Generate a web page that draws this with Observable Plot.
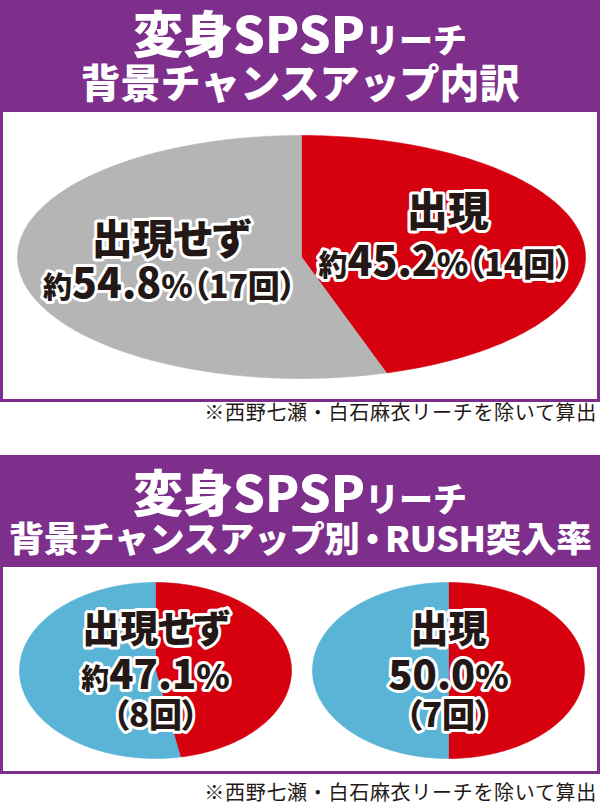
<!DOCTYPE html>
<html><head><meta charset="utf-8">
<script src="https://cdn.jsdelivr.net/npm/d3@7"></script>
<script src="https://cdn.jsdelivr.net/npm/@observablehq/plot@0.6"></script>
<style>
html,body{margin:0;padding:0;background:#fff;}
body{width:600px;height:805px;position:relative;overflow:hidden;font-family:"Noto Sans CJK JP","Noto Sans",sans-serif;}
.hdr{position:absolute;left:0;width:600px;height:112px;background:#7d2f8b;color:#fff;font-weight:900;text-align:center;}
.hdr div{position:absolute;left:0;width:600px;white-space:nowrap;}
.big{font-size:50px;}
.mid{font-size:34px;}
.dot{font-feature-settings:"palt";margin:0 4px;}
.box{position:absolute;left:0;width:600px;box-sizing:border-box;border:3px solid #7d2f8b;border-top:0;background:#fff;}
.box svg{display:block;}
.box svg text{font-feature-settings:"palt";}
.cap{position:absolute;right:3px;font-size:20px;letter-spacing:0.7px;line-height:24px;color:#231815;white-space:nowrap;}
</style></head>
<body>
<div class="hdr" style="top:0">
  <div style="top:6px;line-height:50px"><span class="big">変身SPSP</span><span class="mid">リーチ</span></div>
  <div style="top:59px;line-height:44px;font-size:40px">背景チャンスアップ内訳</div>
</div>
<div class="box" id="box1" style="top:112px;height:290px"></div>
<div class="cap" style="top:400px">※西野七瀬・白石麻衣リーチを除いて算出</div>

<div class="hdr" style="top:455px">
  <div style="top:10px;line-height:50px"><span class="big">変身SPSP</span><span class="mid">リーチ</span></div>
  <div style="top:62px;line-height:40px;font-size:35.5px;letter-spacing:-0.3px">背景チャンスアップ別<span class="dot">・</span>RUSH突入率</div>
</div>
<div class="box" id="box2" style="top:567px;height:207px"></div>
<div class="cap" style="top:780px">※西野七瀬・白石麻衣リーチを除いて算出</div>

<script>
// ---- data ----
const categories = ["出現", "出現せず"];   // 背景チャンスアップ (clockwise from 12 o'clock)
const occurrences = [14, 17];            // 回数
const rushHits = [7, 8];                 // RUSH突入回数
const rushCategoryOrder = ["出現せず", "出現"]; // left → right in the lower panel

// ---- styles ----
const RED = "#d7000f", GREY = "#b5b5b6", BLUE = "#5ab4d6", INK = "#231815";
const FONT = '"Noto Sans CJK JP", sans-serif';

function pctText(a, b) {
  const p = 100 * a / b, s = p.toFixed(1);
  return (Math.abs(p - +s) > 1e-9 ? "約" : "") + s + "%";
}
function wedge(key, start, end, extra = {}) {
  const n = Math.max(4, Math.ceil((end - start) * 360));
  const pts = [{key, x: 0, y: 0, ...extra}];
  for (let i = 0; i <= n; ++i) {
    const t = 2 * Math.PI * (start + (end - start) * i / n);
    pts.push({key, x: Math.sin(t), y: Math.cos(t), ...extra});
  }
  pts.push({key, x: 0, y: 0, ...extra});
  return pts;
}
// rich text: 約 / number / % / （n回）
function richify(svg, cls, sizes) {
  svg.querySelectorAll(`g.${cls} text`).forEach(t => {
    const s = t.textContent;
    const m = s.match(/^(約)?([0-9.]+)?(%)?(.*)$/);
    t.textContent = "";
    const parts = [[m[1], sizes.yaku], [m[2], sizes.num], [m[3], sizes.pct], [m[4], sizes.paren]];
    for (const [txt, fs] of parts) {
      if (!txt) continue;
      const ts = document.createElementNS("http://www.w3.org/2000/svg", "tspan");
      ts.setAttribute("font-size", fs);
      ts.textContent = txt;
      t.appendChild(ts);
    }
  });
}

// ---- chart 1 : 背景チャンスアップ内訳 ----
const total = d3.sum(occurrences);
let acc = 0;
const pie1 = categories.map((c, i) => {
  const s = acc / total; acc += occurrences[i];
  return {cat: c, start: s, end: acc / total, count: occurrences[i]};
});
const pie1Pts = pie1.flatMap(d => wedge(d.cat, d.start, d.end));
const pos1 = {"出現": {name: [0.515, 0.36], stat: [0.505, -0.05]},
              "出現せず": {name: [-0.46, 0.135], stat: [-0.465, -0.23]}};
const lab1 = pie1.map(d => ({
  name: d.cat,
  stat: pctText(d.count, total) + "（" + d.count + "回）",
  nx: pos1[d.cat].name[0], ny: pos1[d.cat].name[1],
  sx: pos1[d.cat].stat[0], sy: pos1[d.cat].stat[1]
}));

const txtStyle = {fill: INK, stroke: "white", strokeWidth: 6, strokeLinejoin: "round", paintOrder: "stroke",
                  fontWeight: 900, fontFamily: FONT, textAnchor: "middle"};

const chart1 = Plot.plot({
  width: 594, height: 287,
  marginLeft: 14, marginRight: 12, marginTop: 23, marginBottom: 21,
  x: {domain: [-1, 1], axis: null},
  y: {domain: [-1, 1], axis: null},
  color: {domain: categories, range: [RED, GREY]},
  marks: [
    Plot.line(pie1Pts, {x: "x", y: "y", z: "key", fill: "key", stroke: "key", strokeWidth: 0.6}),
    Plot.text(lab1, {x: "nx", y: "ny", text: "name", fontSize: 41, className: "name1", ...txtStyle}),
    Plot.text(lab1, {x: "sx", y: "sy", text: "stat", fontSize: 40, className: "stat1", ...txtStyle})
  ]
});
richify(chart1, "stat1", {yaku: 29, num: 41, pct: 32, paren: 32});
document.getElementById("box1").appendChild(chart1);

// ---- chart 2 : 背景チャンスアップ別・RUSH突入率 ----
const pie2Pts = rushCategoryOrder.flatMap(c => {
  const i = categories.indexOf(c), f = rushHits[i] / occurrences[i];
  return [...wedge(c + "突入", 0, f, {pie: c, part: "突入"}),
          ...wedge(c + "非突入", f, 1, {pie: c, part: "非突入"})];
});
const lab2 = rushCategoryOrder.map(c => {
  const i = categories.indexOf(c);
  return {pie: c, name: c, stat: pctText(rushHits[i], occurrences[i]), cnt: "（" + rushHits[i] + "回）"};
});
const chart2 = Plot.plot({
  width: 594, height: 204,
  marginLeft: 16, marginRight: 13, marginTop: 15, marginBottom: 13,
  fx: {domain: rushCategoryOrder, axis: null, paddingInner: 0.072, paddingOuter: 0},
  x: {domain: [-1, 1], axis: null},
  y: {domain: [-1, 1], axis: null},
  color: {domain: ["突入", "非突入"], range: [RED, BLUE]},
  marks: [
    Plot.line(pie2Pts, {fx: "pie", x: "x", y: "y", z: "key", fill: "part", stroke: "part", strokeWidth: 0.6}),
    Plot.text(lab2, {fx: "pie", x: () => 0, y: () => 0.46, text: "name", fontSize: 38, ...txtStyle}),
    Plot.text(lab2, {fx: "pie", x: () => 0, y: () => -0.06, text: "stat", fontSize: 40, className: "stat2", ...txtStyle}),
    Plot.text(lab2, {fx: "pie", x: () => 0, y: () => -0.53, text: "cnt", fontSize: 32, className: "cnt2", ...txtStyle})
  ]
});
richify(chart2, "stat2", {yaku: 28, num: 40, pct: 34, paren: 32});
richify(chart2, "cnt2", {yaku: 28, num: 33, pct: 32, paren: 33});
document.getElementById("box2").appendChild(chart2);
</script>
</body></html>
